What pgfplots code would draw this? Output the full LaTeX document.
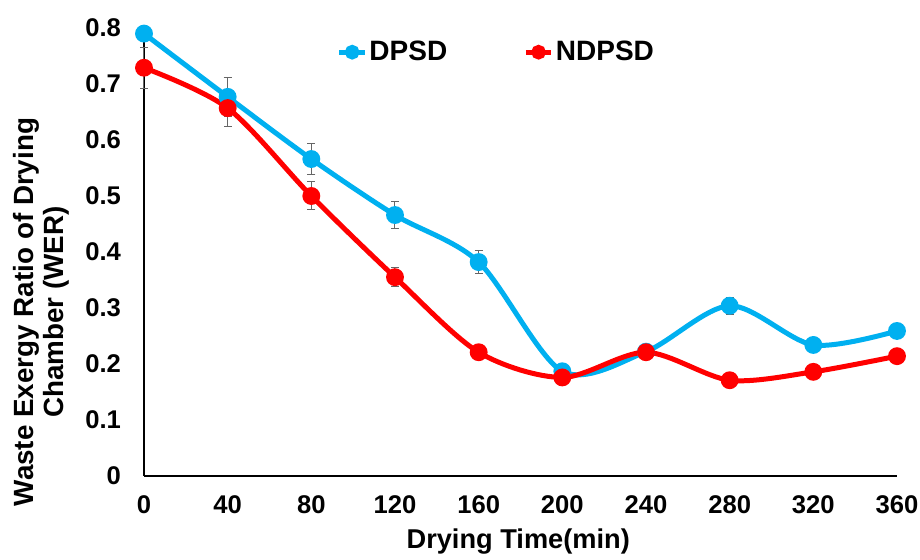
\documentclass[border=0pt]{standalone}
\usepackage{pgfplots}
\pgfplotsset{compat=1.18}
\usepackage{fontspec}
\setmainfont{Liberation Sans}
\definecolor{dpsd}{RGB}{0,176,240}
\definecolor{ndpsd}{RGB}{255,0,0}

\begin{document}
\begin{tikzpicture}
\begin{axis}[
   scale only axis, width=376.5pt, height=224pt,
   xmin=0, xmax=360, ymin=0, ymax=0.8,
   xtick={0,40,...,360}, ytick={0,0.1,...,0.8},
   axis x line=bottom, axis y line=left,
   axis line style={-, line width=1.1pt, black},
   major tick length=0pt,
   clip=false,
   font=\bfseries,
   tick label style={font=\fontsize{12.8}{14}\selectfont\bfseries},
   /pgf/number format/assume math mode=true,
   yticklabel style={/pgf/number format/fixed, /pgf/number format/precision=1, anchor=east, xshift=-8pt},
   ytick style={draw=none}, xtick style={draw=none},
   xticklabel style={anchor=center, yshift=-14.5pt},
   xlabel={Drying Time(min)},
   xlabel style={font=\fontsize{13.6}{16}\selectfont\bfseries, at={(axis description cs:0.497,-0.147)}, anchor=center},
   ylabel={Waste Exergy Ratio of Drying\\Chamber (WER)},
   ylabel style={font=\fontsize{13.9}{15}\selectfont\bfseries, align=center,
      at={(axis description cs:-0.090,0.366)}, anchor=south},
   legend columns=2,
   legend style={draw=none, fill=none, at={(0.468,0.946)}, anchor=center,
      font=\fontsize{14}{16}\selectfont\bfseries,
      nodes={inner xsep=1pt},
      /tikz/every even column/.append style={column sep=37pt}},
   legend image code/.code={
      \draw[#1, line width=2.5pt] (0cm,0cm) -- (0.45cm,0cm);
      \draw[#1, mark size=2.4pt, mark repeat=1] plot coordinates {(0.225cm,0cm)};},
   error bars/error bar style={gray!80!black, line width=0.5pt},
   error bars/error mark options={rotate=90, mark size=2pt, gray!80!black, line width=0.5pt},
]
% DPSD
\addplot[dpsd, line width=2.5pt, smooth, tension=0.5, mark=*, mark size=3.2pt,
   mark options={solid},
   error bars/.cd, y dir=both, y explicit]
   coordinates {
   (0,0.790) +- (0,0.010)
   (40,0.677) +- (0,0.035)
   (80,0.566) +- (0,0.028)
   (120,0.466) +- (0,0.024)
   (160,0.382) +- (0,0.020)
   (200,0.187) +- (0,0.010)
   (240,0.222) +- (0,0.010)
   (280,0.304) +- (0,0.015)
   (320,0.234) +- (0,0.012)
   (360,0.259) +- (0,0.013)
   };
\addlegendentry{DPSD}
% NDPSD
\addplot[ndpsd, line width=2.5pt, smooth, tension=0.5, mark=*, mark size=3.2pt,
   mark options={solid},
   error bars/.cd, y dir=both, y explicit]
   coordinates {
   (0,0.729) +- (0,0.037)
   (40,0.657) +- (0,0.033)
   (80,0.500) +- (0,0.025)
   (120,0.355) +- (0,0.017)
   (160,0.221) +- (0,0.010)
   (200,0.176) +- (0,0.006)
   (240,0.221) +- (0,0.010)
   (280,0.171) +- (0,0.005)
   (320,0.186) +- (0,0.006)
   (360,0.214) +- (0,0.008)
   };
\addlegendentry{NDPSD}
\coordinate (bl) at (rel axis cs:0,0);
\coordinate (tr) at (rel axis cs:1,1);
\end{axis}
\pgfresetboundingbox
\path ([xshift=-72pt,yshift=-42pt]bl) rectangle ([xshift=11.5pt,yshift=14pt]tr);
\end{tikzpicture}
\end{document}
